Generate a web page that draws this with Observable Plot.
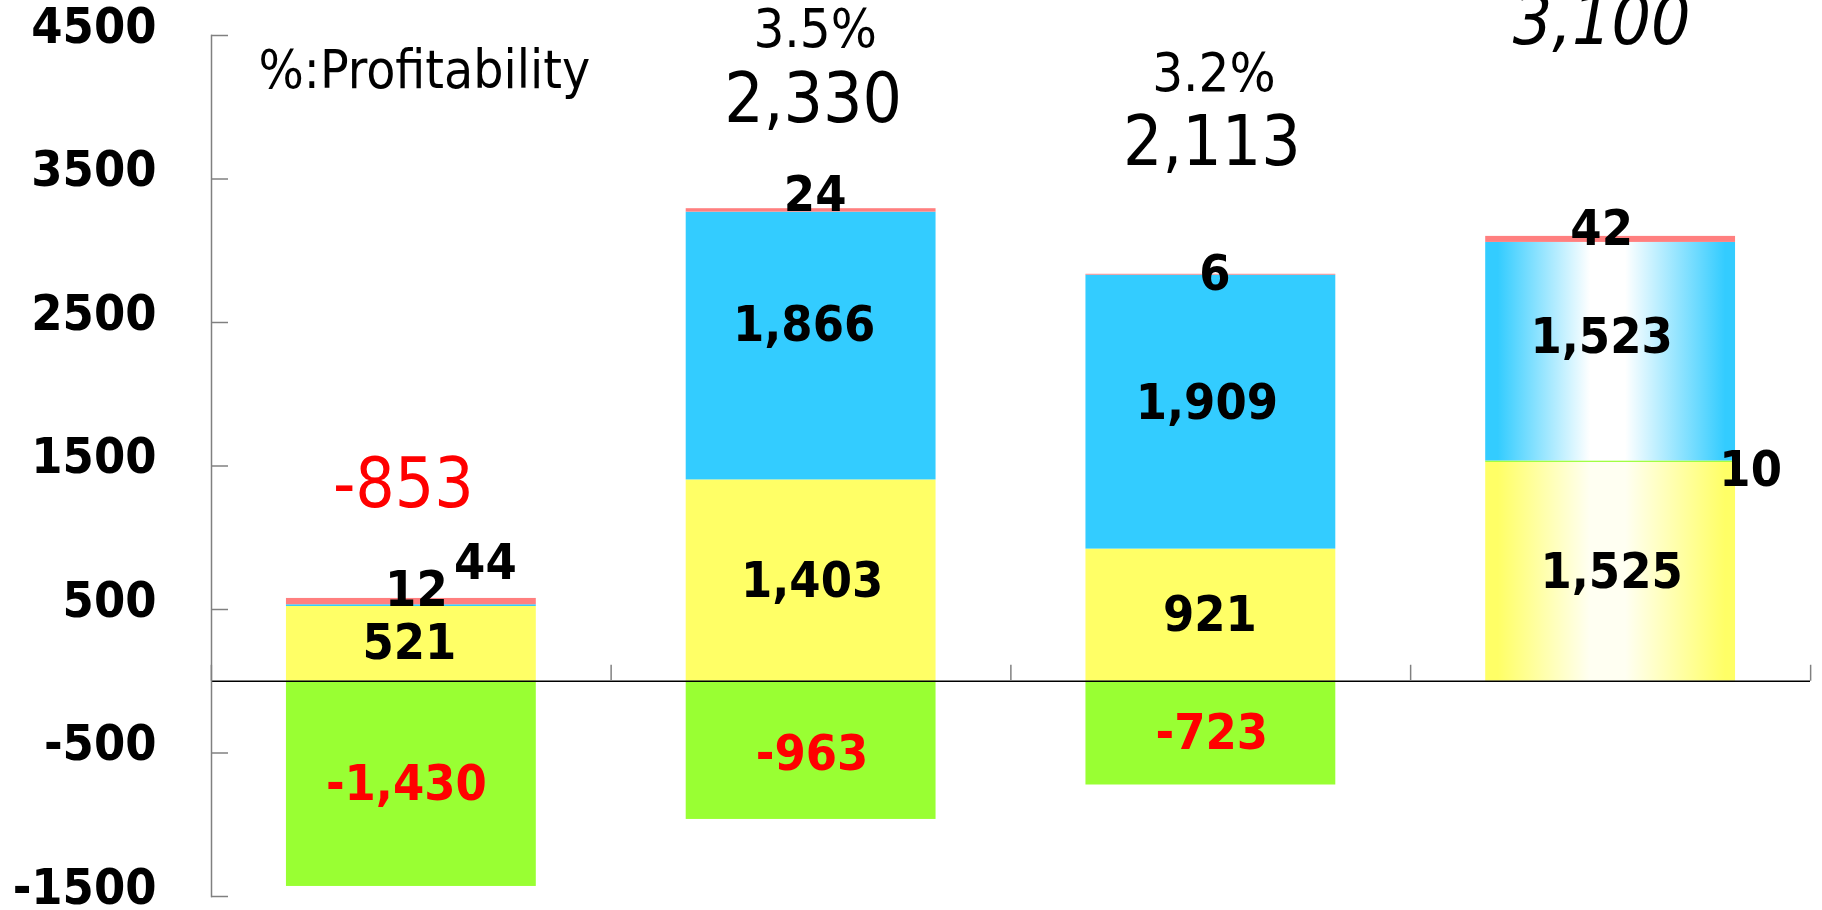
<!DOCTYPE html>
<html>
<head>
<meta charset="utf-8">
<script src="https://cdn.jsdelivr.net/npm/d3@7"></script>
<script src="https://cdn.jsdelivr.net/npm/@observablehq/plot@0.6"></script>
<style>
  html, body { margin: 0; padding: 0; background: #ffffff; overflow: hidden; }
  #chart svg { display: block; font-stretch: condensed; }
</style>
</head>
<body>
<div id="chart"></div>
<script>
// ---------------- data ----------------
const periods = ["Period 1", "Period 2", "Period 3", "Period 4"];
const seriesNames = ["Yellow", "Green", "Blue", "Pink"];
const yellowValues = [521, 1403, 921, 1525];
const greenValues = [-1430, -963, -723, 10];
const blueValues = [12, 1866, 1909, 1523];
const pinkValues = [44, 24, 6, 42];
const totalValues = [-853, 2330, 2113, 3100];
const profitability = [null, 3.5, 3.2, null];
const yTicks = [-1500, -500, 500, 1500, 2500, 3500, 4500];
const noteText = "%:Profitability";

// ---------------- styling / layout ----------------
const seriesColors = {Yellow: "#FFFF66", Green: "#99FF33", Blue: "#33CCFF", Pink: "#FF7F7F"};
const gradientFills = {3: {Yellow: "url(#gradYellow)", Blue: "url(#gradBlue)"}};
// pixel offsets of segment labels [dx, dy] by period index and series
const labelOffsets = [
  {Yellow: [-2, -1], Green: [-5, 0], Blue: [5, -16], Pink: [74, -39]},
  {Yellow: [1, 0], Green: [1, 4], Blue: [-7, -21], Pink: [4, -15]},
  {Yellow: [-1, 0], Green: [1, 0], Blue: [-4, -9], Pink: [4, -1]},
  {Yellow: [1, 0], Green: [140, 8], Blue: [-9, -15], Pink: [-9, -10]}
];
const totalOffsets = [[-8, -114], [2, -109], [1, -131], [-9, -214]];
const pctGap = -70;
const FONT = "'DejaVu Sans Condensed', 'DejaVu Sans', sans-serif";

const fmt = d3.formatLocale({decimal: ".", thousands: ",", grouping: [3], currency: ["", ""], minus: "-"}).format(",");

const valuesBySeries = {Yellow: yellowValues, Green: greenValues, Blue: blueValues, Pink: pinkValues};
const rows = [];
periods.forEach((p, i) => {
  seriesNames.forEach(s => rows.push({period: p, index: i, series: s, value: valuesBySeries[s][i]}));
});

// stacked positions (diverging, input order) for labels
const labelRows = [];
const positiveTops = [];
periods.forEach((p, i) => {
  let pos = 0, neg = 0;
  seriesNames.forEach(s => {
    const v = valuesBySeries[s][i];
    let y1, y2;
    if (v < 0) { y1 = neg; y2 = neg + v; neg = y2; }
    else { y1 = pos; y2 = pos + v; pos = y2; }
    labelRows.push({period: p, index: i, series: s, value: v, mid: (y1 + y2) / 2});
  });
  positiveTops.push(pos);
});

const fillFor = d => (gradientFills[d.index] && gradientFills[d.index][d.series]) || seriesColors[d.series];

const marks = [];

// bars
marks.push(Plot.barY(rows, {x: "period", y: "value", z: "series", fill: fillFor}));

// zero line
marks.push(Plot.ruleY([0], {stroke: "#000000", strokeWidth: 1.5}));

// x-axis tick marks at band boundaries (pointing up)
marks.push(Plot.ruleX(periods, {x: d => d, y1: 0, y2: 0, dx: -200, insetBottom: 16, stroke: "#808080", strokeWidth: 1.5}));
marks.push(Plot.ruleX([periods[periods.length - 1]], {x: d => d, y1: 0, y2: 0, dx: 200, insetBottom: 16, stroke: "#808080", strokeWidth: 1.5}));

// y axis line, ticks and labels
marks.push(Plot.frame({anchor: "left", stroke: "#808080", strokeWidth: 1.5}));
marks.push(Plot.tickY(yTicks, {y: d => d, insetRight: 1582, stroke: "#808080", strokeWidth: 1.5}));
marks.push(Plot.axisY({
  ticks: yTicks, tickSize: 0, tickPadding: 55, tickFormat: d => String(d),
  fontSize: 50, fontWeight: "bold", fill: "#000000", dy: -9, fontFamily: FONT
}));

// segment labels
labelRows.forEach(r => {
  const [dx, dy] = labelOffsets[r.index][r.series];
  marks.push(Plot.text([r], {
    x: "period", y: "mid", text: d => fmt(d.value), dx, dy,
    fontSize: 50, fontWeight: "bold", fontFamily: FONT,
    fill: r.value < 0 ? "#FF0000" : "#000000"
  }));
});

// totals and profitability
periods.forEach((p, i) => {
  const [dx, dy] = totalOffsets[i];
  const d = {period: p, top: positiveTops[i], total: totalValues[i], pct: profitability[i]};
  marks.push(Plot.text([d], {
    x: "period", y: "top", text: t => fmt(t.total), dx, dy,
    fontSize: 69, fontFamily: FONT, fontWeight: "normal",
    fontStyle: i === 3 ? "italic" : "normal",
    fill: d.total < 0 ? "#FF0000" : "#000000"
  }));
  if (d.pct != null) {
    marks.push(Plot.text([d], {
      x: "period", y: "top", text: t => `${t.pct.toFixed(1)}%`, dx: dx + 2, dy: dy + pctGap,
      fontSize: 54, fontFamily: FONT, fill: "#000000"
    }));
  }
});

// note
marks.push(Plot.text([noteText], {
  frameAnchor: "top-left", text: d => d, textAnchor: "start", dx: 47, dy: 15,
  fontSize: 53, fontFamily: FONT, fill: "#000000"
}));

const chart = Plot.plot({
  width: 1822,
  height: 910,
  marginLeft: 211,
  marginRight: 12,
  marginTop: 35,
  marginBottom: 14,
  style: {fontFamily: FONT, background: "#ffffff", overflow: "visible"},
  x: {type: "band", domain: periods, paddingInner: 0.375, paddingOuter: 0.1875, align: 0.5, round: false, axis: null},
  y: {domain: [-1500, 4500], axis: null},
  color: {type: "identity"},
  marks
});

// gradient definitions for the last bar
const ns = "http://www.w3.org/2000/svg";
const defs = document.createElementNS(ns, "defs");
[["gradYellow", "#FFFF66", "#FFFFF2"], ["gradBlue", "#33CCFF", "#FFFFFF"]].forEach(([id, c, w]) => {
  const lg = document.createElementNS(ns, "linearGradient");
  lg.setAttribute("id", id);
  lg.setAttribute("x1", "0"); lg.setAttribute("y1", "0");
  lg.setAttribute("x2", "1"); lg.setAttribute("y2", "0");
  [[0, c], [0.05, c], [0.42, w], [0.56, w], [0.96, c], [1, c]].forEach(([o, col]) => {
    const st = document.createElementNS(ns, "stop");
    st.setAttribute("offset", String(o));
    st.setAttribute("stop-color", col);
    lg.appendChild(st);
  });
  defs.appendChild(lg);
});
chart.insertBefore(defs, chart.firstChild);

document.getElementById("chart").appendChild(chart);
</script>
</body>
</html>
